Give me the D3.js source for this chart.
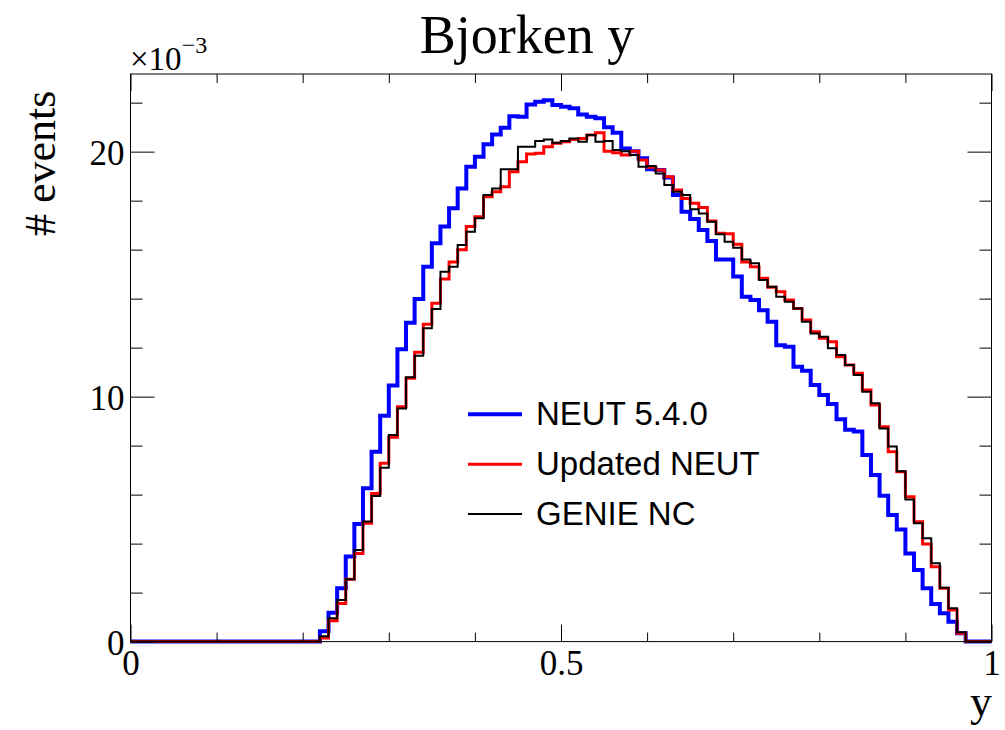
<!DOCTYPE html>
<html>
<head>
<meta charset="utf-8">
<script src="https://cdn.jsdelivr.net/npm/d3@7"></script>
<style>
  body { margin: 0; background: #fff; }
  svg { display: block; }
  .serif { font-family: "Liberation Serif", "Times New Roman", serif; }
  .sans { font-family: "Liberation Sans", Arial, sans-serif; }
</style>
</head>
<body>
<div id="chart"></div>
<script>
const w = 1005;
const h = 730;

// bins: 100 bins on [0,1], values below are bins 22..96 (others are empty)
const nBins = 100;
const firstBin = 22;

const neut540 = [
  0.42, 1.18, 2.18, 3.47, 4.8, 6.26, 7.75, 9.22, 10.45, 11.93,
  13.02, 13.99, 15.3, 16.26, 16.94, 17.69, 18.5, 19.38, 19.79, 20.3,
  20.7, 20.98, 21.45, 21.42, 21.92, 22.04, 22.1, 21.9, 21.83, 21.77,
  21.52, 21.42, 21.36, 21.0, 20.77, 20.13, 20.02, 19.73, 19.28, 19.25,
  18.95, 18.23, 17.55, 17.25, 16.8, 16.35, 15.6, 15.6, 14.9, 14.08,
  13.94, 13.53, 13.06, 12.1, 12.04, 11.22, 11.06, 10.47, 10.07, 9.7,
  9.08, 8.65, 8.58, 7.62, 6.8, 5.95, 5.17, 4.58, 3.6, 2.92,
  2.18, 1.53, 1.16, 0.81, 0.34
];
const neutUpdated = [
  0.15, 0.85, 1.56, 2.55, 3.6, 4.83, 6.05, 7.28, 8.34, 9.59,
  10.75, 11.81, 12.95, 13.81, 14.8, 15.5, 16.0, 16.94, 17.34, 18.16,
  18.36, 18.57, 19.18, 19.59, 19.9, 19.93, 20.2, 20.34, 20.4, 20.5,
  20.54, 20.68, 20.77, 20.02, 19.96, 19.86, 20.02, 19.66, 19.36, 19.25,
  18.98, 18.43, 18.09, 17.89, 17.72, 17.17, 16.67, 16.65, 16.22, 15.5,
  15.3, 14.83, 14.46, 14.28, 13.94, 13.6, 13.13, 12.65, 12.38, 12.24,
  11.63, 11.29, 10.95, 10.27, 9.66, 8.77, 7.75, 6.93, 5.91, 4.89,
  3.98, 3.06, 2.18, 1.29, 0.34
];
const genieNC = [
  0.22, 0.95, 1.7, 2.55, 3.74, 4.9, 5.94, 7.1, 8.43, 9.52,
  10.79, 11.67, 12.79, 13.58, 15.1, 15.3, 16.19, 16.73, 17.28, 18.23,
  18.5, 19.28, 19.28, 20.2, 20.2, 20.43, 20.5, 20.36, 20.43, 20.54,
  20.4, 20.68, 20.4, 20.43, 20.07, 20.02, 19.86, 19.38, 19.41, 19.11,
  18.64, 18.36, 18.23, 17.65, 17.48, 17.14, 16.63, 16.32, 16.08, 15.6,
  15.44, 14.76, 14.49, 14.08, 13.87, 13.6, 13.06, 12.58, 12.44, 11.97,
  11.7, 11.29, 10.88, 10.2, 9.73, 8.7, 7.96, 6.95, 5.8, 4.83,
  4.22, 3.2, 2.2, 1.36, 0.38
];

const seriesNames = ["NEUT 5.4.0", "Updated NEUT", "GENIE NC"];
const seriesColors = ["#0000ff", "#ff0000", "#000000"];
const seriesWidths = [4, 3, 2];

const xMajor = [0, 0.5, 1];
const yMajor = [0, 10, 20];

const frame = {left: 130.5, right: 991.5, top: 74, bottom: 641.6};

const svg = d3.select("#chart").append("svg")
  .attr("width", w).attr("height", h);

const x = d3.scaleLinear().domain([0, 1]).range([frame.left, frame.right]);
const y = d3.scaleLinear().domain([0, 23.17]).range([frame.bottom, frame.top]);

// full 100-bin contents (empty bins outside the filled range)
function fullBins(vals) {
  const out = new Array(nBins).fill(0);
  vals.forEach((v, i) => { out[firstBin + i] = v; });
  return out;
}

const line = d3.line()
  .x((d) => x(d[0]))
  .y((d) => y(d[1]))
  .curve(d3.curveStepAfter);

function histPoints(vals) {
  const bins = fullBins(vals);
  const pts = bins.map((v, i) => [i / nBins, v]);
  pts.push([1, bins[nBins - 1]]);
  return pts;
}

const plot = svg.append("g");
[neut540, neutUpdated, genieNC].forEach((vals, i) => {
  plot.append("path")
    .attr("d", line(histPoints(vals)))
    .attr("fill", "none")
    .attr("stroke", seriesColors[i])
    .attr("stroke-width", seriesWidths[i])
    .attr("stroke-linejoin", "miter");
});

// frame
svg.append("rect")
  .attr("x", frame.left).attr("y", frame.top)
  .attr("width", frame.right - frame.left)
  .attr("height", frame.bottom - frame.top)
  .attr("fill", "none").attr("stroke", "#000").attr("stroke-width", 1);

const xMinor = d3.range(0, 11).map((i) => i / 10).filter((v) => !xMajor.includes(v));
const yMinor = d3.range(0, 12).map((i) => i * 2).filter((v) => !yMajor.includes(v));

function addAxis(axis, tx, ty, cls) {
  const g = svg.append("g")
    .attr("transform", `translate(${tx},${ty})`)
    .attr("class", cls)
    .call(axis);
  g.select(".domain").remove();
  g.selectAll(".tick line").attr("stroke", "#000").attr("stroke-width", 1);
  return g;
}

// bottom
const xb = addAxis(d3.axisBottom(x).tickValues(xMajor).tickSize(-17).tickPadding(8.5)
  .tickFormat((d) => d3.format("")(d)), 0, frame.bottom, "serif");
xb.selectAll("text").attr("font-size", 35).attr("fill", "#000");
addAxis(d3.axisBottom(x).tickValues(xMinor).tickSize(-9).tickFormat(""), 0, frame.bottom);
// top
addAxis(d3.axisTop(x).tickValues(xMajor).tickSize(-17).tickFormat(""), 0, frame.top);
addAxis(d3.axisTop(x).tickValues(xMinor).tickSize(-9).tickFormat(""), 0, frame.top);
// left
const yl = addAxis(d3.axisLeft(y).tickValues(yMajor).tickSize(-24).tickPadding(6), frame.left, 0, "serif");
yl.selectAll("text").attr("font-size", 35).attr("fill", "#000").attr("dy", "0.36em");
addAxis(d3.axisLeft(y).tickValues(yMinor).tickSize(-12).tickFormat(""), frame.left, 0);
// right
addAxis(d3.axisRight(y).tickValues(yMajor).tickSize(-24).tickFormat(""), frame.right, 0);
addAxis(d3.axisRight(y).tickValues(yMinor).tickSize(-12).tickFormat(""), frame.right, 0);

// exponent
const expo = svg.append("text").attr("class", "serif")
  .attr("x", 130).attr("y", 70).attr("font-size", 33).attr("fill", "#000");
expo.append("tspan").text("\u00d710");
expo.append("tspan").attr("font-size", 24).attr("dy", -17).text("\u22123");

// titles
svg.append("text").attr("class", "serif")
  .attr("x", 527).attr("y", 53).attr("text-anchor", "middle")
  .attr("font-size", 54).attr("fill", "#000").text("Bjorken y");

svg.append("text").attr("class", "serif")
  .attr("x", 992).attr("y", 716).attr("text-anchor", "end")
  .attr("font-size", 44).attr("fill", "#000").text("y");

svg.append("text").attr("class", "serif")
  .attr("transform", "translate(55,236) rotate(-90)")
  .attr("text-anchor", "start")
  .attr("font-size", 44).attr("fill", "#000").text("# events");

// legend
const legend = svg.append("g").attr("class", "sans");
const legendRow = d3.scaleLinear().domain([0, 2]).range([414.3, 514]);
seriesNames.forEach((name, i) => {
  const ly = legendRow(i);
  legend.append("line")
    .attr("x1", 468).attr("x2", 522).attr("y1", ly).attr("y2", ly)
    .attr("stroke", seriesColors[i]).attr("stroke-width", seriesWidths[i]);
  legend.append("text")
    .attr("x", 536).attr("y", ly + 10.8)
    .attr("font-size", 33).attr("fill", "#000").text(name);
});
</script>
</body>
</html>
